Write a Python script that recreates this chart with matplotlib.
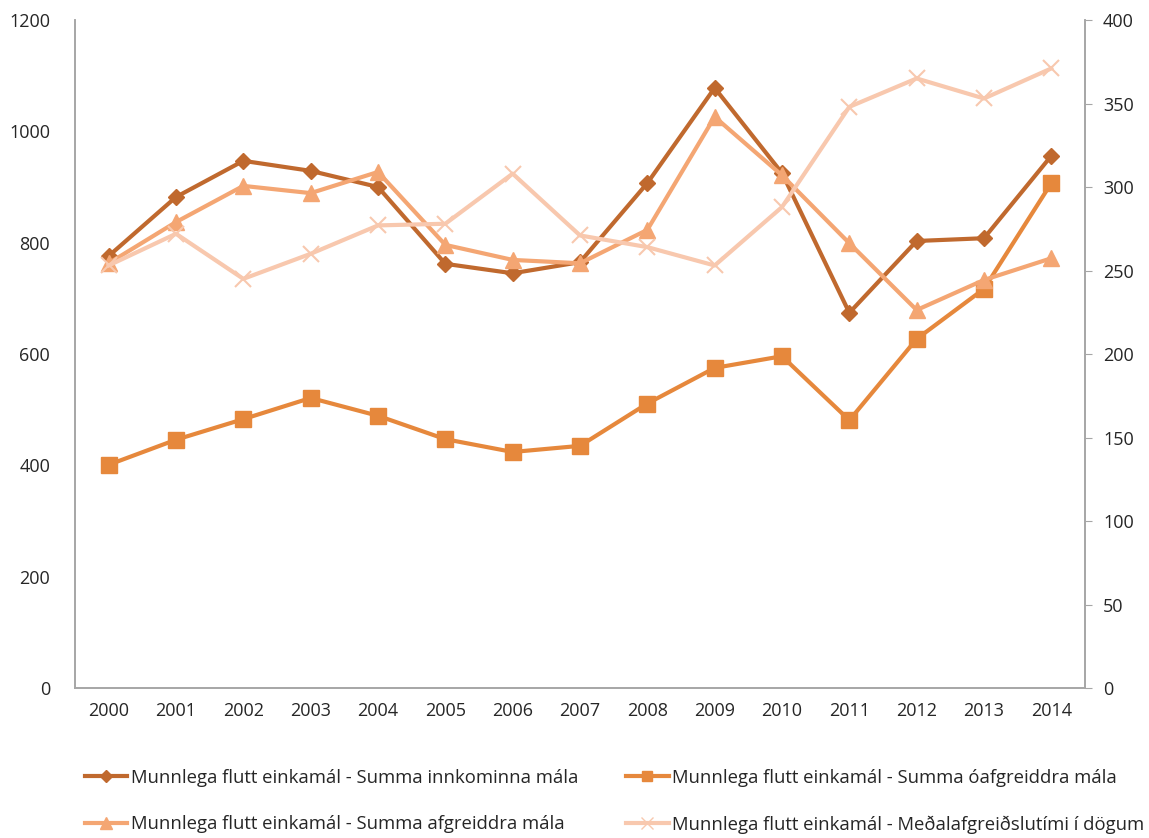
import numpy as np
import matplotlib
matplotlib.use("Agg")
import matplotlib.pyplot as plt
from matplotlib.lines import Line2D

plt.rcParams['font.family'] = ['Open Sans', 'DejaVu Sans']

years = [str(y) for y in range(2000, 2015)]
innkomin = [776, 882, 947, 929, 900, 762, 745, 765, 907, 1078, 925, 674, 803, 808, 956]
oafgreidd = [401, 446, 483, 521, 489, 447, 424, 435, 511, 575, 596, 481, 627, 717, 907]
afgreidd = [763, 837, 902, 889, 927, 796, 769, 763, 823, 1026, 921, 799, 679, 733, 772]
medaltimi = [253, 272, 245, 260, 277, 278, 308, 271, 264, 253, 288, 348, 365, 353, 371]

labels = ['Munnlega flutt einkamál - Summa innkominna mála',
          'Munnlega flutt einkamál - Summa óafgreiddra mála',
          'Munnlega flutt einkamál - Summa afgreiddra mála',
          'Munnlega flutt einkamál - Meðalafgreiðslutími í dögum']
colors = ['#C0692E', '#E6883C', '#F4A673', '#F8C8AE']

fig = plt.figure(figsize=(11.49, 8.38), dpi=100)
ax = fig.add_axes([75 / 1149, 1 - 688 / 838, 1010 / 1149, 668 / 838])
ax2 = ax.twinx()

x = np.arange(len(years))
ax.plot(x, innkomin, color=colors[0], lw=3, marker='D', ms=8)
ax.plot(x, oafgreidd, color=colors[1], lw=3, marker='s', ms=11)
ax.plot(x, afgreidd, color=colors[2], lw=3, marker='^', ms=12)
ax2.plot(x, medaltimi, color=colors[3], lw=3, marker='x', ms=11, mew=1.5)
ax2.set_zorder(0)

ax.set_xlim(-0.5, len(years) - 0.5)
ax.set_ylim(0, 1200)
ax2.set_ylim(0, 400)
ax.set_xticks(x)
ax.set_xticklabels(years)
ax.set_yticks(range(0, 1201, 200))
ax2.set_yticks(range(0, 401, 50))

for a in (ax, ax2):
    a.spines['top'].set_visible(False)
    for s in ('left', 'right', 'bottom'):
        a.spines[s].set_color('#A6A6A6')
        a.spines[s].set_linewidth(1.2)
    a.tick_params(labelsize=13, colors='#262626')
ax.tick_params(axis='y', length=0, pad=18)
ax.tick_params(axis='x', length=0, pad=10)
ax2.tick_params(axis='y', length=5, color='#A6A6A6', pad=8)

handles = [Line2D([0], [0], color=c, lw=3, marker=m, ms=s)
           for c, m, s in zip(colors, ['D', 's', '^', 'x'], [6, 7, 8, 8])]
# legend fills by column, so put entries in row order
order = [0, 2, 1, 3]
fig.legend([handles[i] for i in order], [labels[i] for i in order],
           loc='upper left', bbox_to_anchor=(68 / 1149, 1 - 752 / 838),
           ncol=2, frameon=False, fontsize=13.3, handlelength=2.3, handletextpad=0.2,
           columnspacing=2.6, labelspacing=1.55, labelcolor='#262626')

fig.savefig('out.png', dpi=100)
